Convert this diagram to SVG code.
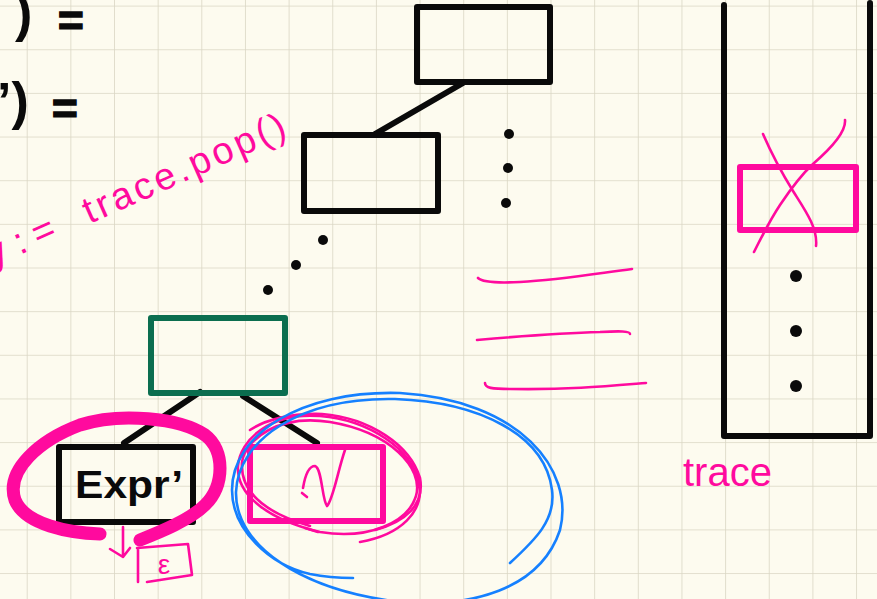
<svg xmlns="http://www.w3.org/2000/svg" width="877" height="599" viewBox="0 0 877 599">
  <defs>
    <pattern id="grid" patternUnits="userSpaceOnUse" x="26.7" y="5.6" width="43.65" height="43.65">
      <path d="M0 0 V43.65 M0 0 H43.65" fill="none" stroke="#DAD6C4" stroke-width="1.6"/>
    </pattern>
    <style>
      .box { fill: none; stroke: #0a0a0a; stroke-width: 6; stroke-linejoin: round; }
      .tree { fill: none; stroke: #0a0a0a; stroke-width: 6; stroke-linecap: round; }
      .green { fill: none; stroke: #0B6E4F; stroke-width: 6; stroke-linejoin: round; }
      .pinkbox { fill: none; stroke: #FF0A9E; stroke-width: 6; stroke-linejoin: round; }
      .ink { fill: none; stroke: #FF0A9E; stroke-width: 2.6; stroke-linecap: round; stroke-linejoin: round; }
      .marker { fill: none; stroke: #FF0A9E; stroke-width: 13; stroke-linecap: round; }
      .blue { fill: none; stroke: #1580FF; stroke-width: 2.6; stroke-linecap: round; }
      .dot { fill: #0a0a0a; }
      .pinktext { fill: #FF0A9E; font-family: "Liberation Sans", Arial, sans-serif; }
      .blacktext { fill: #0a0a0a; font-family: "Liberation Sans", Arial, sans-serif; font-weight: bold; }
      .eq { stroke: #0a0a0a; stroke-width: 1.6; }
    </style>
  </defs>

  <!-- paper -->
  <rect width="877" height="599" fill="#FDFBEF"/>
  <rect width="877" height="599" fill="url(#grid)"/>

  <!-- equations cut at the left edge -->
  <g id="equations">
    <text class="blacktext" x="15" y="31" font-size="52">)</text>
    <text class="blacktext eq" x="58" y="36" font-size="44">=</text>
    <text class="blacktext" x="-3" y="119" font-size="52">’)</text>
    <text class="blacktext eq" x="52" y="124" font-size="44">=</text>
  </g>

  <!-- pop note -->
  <text id="pop-note" class="pinktext" font-size="38" transform="translate(20,255) rotate(-24)"><tspan x="-30" y="0">y</tspan><tspan x="0" y="0">:</tspan><tspan x="20" y="0">=</tspan><tspan x="76" y="0" textLength="218" lengthAdjust="spacing">trace.pop()</tspan></text>

  <!-- connectors -->
  <g id="connectors">
    <path class="tree" d="M463 83 L375 134"/>
    <path class="tree" d="M200 392 L124 443"/>
    <path class="tree" d="M243 396 L317 443"/>
    <circle class="dot" cx="323" cy="240" r="5"/>
    <circle class="dot" cx="296" cy="265" r="5"/>
    <circle class="dot" cx="268" cy="290" r="5"/>
    <circle class="dot" cx="509" cy="134" r="5"/>
    <circle class="dot" cx="508" cy="168" r="5"/>
    <circle class="dot" cx="506" cy="203" r="5"/>
  </g>

  <!-- tree nodes -->
  <g id="node-root"><rect class="box" x="417" y="7" width="133" height="75"/></g>
  <g id="node-child"><rect class="box" x="304" y="135" width="134" height="76"/></g>
  <g id="node-current"><rect class="green" x="151" y="318" width="134" height="75"/></g>
  <g id="node-expr">
    <rect class="box" x="59" y="447" width="134" height="75"/>
    <text class="blacktext" x="75" y="498" font-size="38" textLength="108" lengthAdjust="spacingAndGlyphs">Expr’</text>
  </g>
  <g id="node-terminal">
    <rect class="pinkbox" x="250" y="447" width="133" height="74"/>
    <path class="ink" d="M302 493 L307 497 M303 488 C305 476 309 466 315 466 C322 468 322 500 327 506 C333 500 338 470 345 450"/>
  </g>

  <!-- highlight around Expr' and its epsilon result -->
  <g id="expr-mark">
    <path class="marker" d="M100 534 C70 533 25 525 15 500 C5 470 40 440 80 425 C120 412 180 418 205 435 C225 450 225 485 205 505 C190 520 160 532 140 540"/>
    <path class="ink" d="M123 527 L123 557 M110 549 L123 557 L130 548"/>
    <path class="ink" d="M138 548 L138 582 M137 548 L188 544 L192 575 L147 582"/>
    <text class="pinktext" x="164" y="574" font-size="28" text-anchor="middle">ε</text>
  </g>

  <!-- loops around the terminal node -->
  <g id="terminal-mark">
    <path class="ink" d="M360 542 C400 535 425 512 419 482 C412 450 370 420 320 416 C270 412 240 440 238 466 C236 496 270 520 320 532 C370 540 408 522 416 496 C424 468 390 432 330 422 C280 414 246 438 242 462 C240 490 262 512 310 526"/>
    <path class="ink" d="M250 430 C265 420 290 413 322 414 C370 418 410 445 420 478 C425 505 405 522 375 530"/>
    <path class="ink" d="M305 528 L318 532"/>
    <path class="blue" d="M510 563 C535 540 556 520 552 490 C545 435 480 402 395 399 C300 397 238 440 236 492 C235 545 300 590 400 602 C470 608 540 590 560 530 C575 470 520 400 400 393 C300 390 232 435 232 490 C232 530 270 565 310 574 C330 578 345 578 353 578"/>
  </g>

  <!-- strokes between tree and stack -->
  <g id="dashes">
    <path class="ink" d="M478 278 C482 282 500 283 520 282 C560 280 600 273 632 269"/>
    <path class="ink" d="M477 340 C500 338 560 333 600 332 C620 331 630 331 630 334"/>
    <path class="ink" d="M485 383 C485 388 492 389 510 389 C570 390 610 386 646 383"/>
  </g>

  <!-- trace stack -->
  <g id="trace-stack">
    <path class="tree" d="M724 5 L724 436 L870 436 L870 3" stroke-width="7" stroke-linejoin="round"/>
    <rect class="pinkbox" x="740" y="167" width="116" height="63"/>
    <path class="ink" d="M763 134 C770 150 780 170 793 191 C805 210 818 228 816 246"/>
    <path class="ink" d="M845 120 C846 130 835 145 813 164 C800 176 790 190 780 205 C770 220 760 240 754 252"/>
    <circle class="dot" cx="796" cy="276" r="6"/>
    <circle class="dot" cx="796" cy="331" r="6"/>
    <circle class="dot" cx="796" cy="386" r="6"/>
    <text class="pinktext" x="683" y="486" font-size="40">trace</text>
  </g>
</svg>
